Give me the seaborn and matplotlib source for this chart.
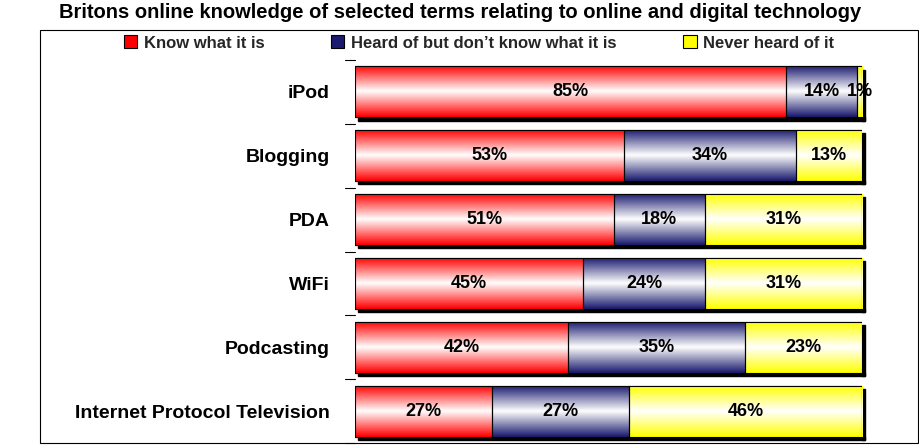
import matplotlib
matplotlib.use("Agg")
import matplotlib.pyplot as plt
import seaborn as sns
import numpy as np
import pandas as pd
from matplotlib.colors import LinearSegmentedColormap
from matplotlib.patches import Rectangle

categories = ["iPod", "Blogging", "PDA", "WiFi", "Podcasting", "Internet Protocol Television"]
know = [85, 53, 51, 45, 42, 27]
heard = [14, 34, 18, 24, 35, 27]
never = [1, 13, 31, 31, 23, 46]
series_names = ["Know what it is", "Heard of but don\u2019t know what it is", "Never heard of it"]
series_colors = ["#FF0000", "#1A1A6E", "#FFFF00"]

sns.set_theme(style="white")
plt.rcParams['font.family'] = ['Liberation Sans', 'DejaVu Sans']

fig = plt.figure(figsize=(9.2, 4.45), dpi=100)
W, H = 920, 445
ax = fig.add_axes([355 / W, 1 - 443 / H, (862 - 355) / W, (443 - 60) / H])

df = pd.DataFrame({"cat": categories, "know": know, "heard": heard, "never": never})
ypos = np.arange(len(categories))
left = np.zeros(len(categories))
ax.set_xlim(0, 100)
ax.set_ylim(len(categories) - 0.5, -0.5)

for col, name, colr in zip(["know", "heard", "never"], series_names, series_colors):
    vals = df[col].values
    bars = ax.barh(ypos, vals, left=left, height=0.8, color=colr, edgecolor="black",
                   linewidth=0.8, zorder=2, label=name)
    cmap = LinearSegmentedColormap.from_list("g", [colr, "white", colr])
    grad = np.linspace(0, 1, 64).reshape(-1, 1)
    for i, (b, v, l) in enumerate(zip(bars, vals, left)):
        x0, y0, w, h = b.get_x(), b.get_y(), b.get_width(), b.get_height()
        im = ax.imshow(grad, cmap=cmap, aspect="auto", extent=[x0, x0 + w, y0 + h, y0],
                       zorder=2.5, interpolation="bicubic")
        im.set_clip_path(b)
        ax.add_patch(Rectangle((x0, y0), w, h, fill=False, edgecolor="black", linewidth=0.8, zorder=3))
        ax.text(l + v / 2, ypos[i], f"{v}%", ha="center", va="center",
                fontsize=13, fontweight="bold", color="black", zorder=4)
    left = left + vals

for y in ypos:
    ax.add_patch(Rectangle((100, y - 0.4 + 0.05), 0.5, 0.8, color="black", zorder=1, clip_on=False))
    ax.add_patch(Rectangle((0.5, y + 0.4), 100, 0.05, color="black", zorder=1, clip_on=False))

ax.set_xticks([])
ax.set_yticks(ypos)
ax.set_yticklabels(categories, fontsize=14, fontweight="bold", color="black")
ax.tick_params(axis="y", length=0, pad=18)
for s in ["top", "right", "bottom", "left"]:
    ax.spines[s].set_visible(False)
for y in np.arange(-0.5, len(categories), 1):
    ax.plot([-2, 0], [y, y], color="black", lw=0.8, clip_on=False, zorder=1)

fig.add_artist(Rectangle((40 / W, 1 - 443 / H), (918 - 40) / W, (443 - 30) / H,
                         transform=fig.transFigure, fill=False, edgecolor="black", lw=0.8))

fig.text(0.5, 1 - 12 / H, "Britons online knowledge of selected terms relating to online and digital technology",
         ha="center", va="center", fontsize=14.5, fontweight="bold", color="black")

ax.legend(loc="center", bbox_to_anchor=(0.5 * (40 + 918) / W, 1 - 43 / H),
          bbox_transform=fig.transFigure, ncol=3, frameon=False,
          prop={"weight": "bold", "size": 12}, handlelength=0.8, handleheight=0.8,
          columnspacing=4.0, handletextpad=0.4)

fig.savefig("out.png", dpi=100)
